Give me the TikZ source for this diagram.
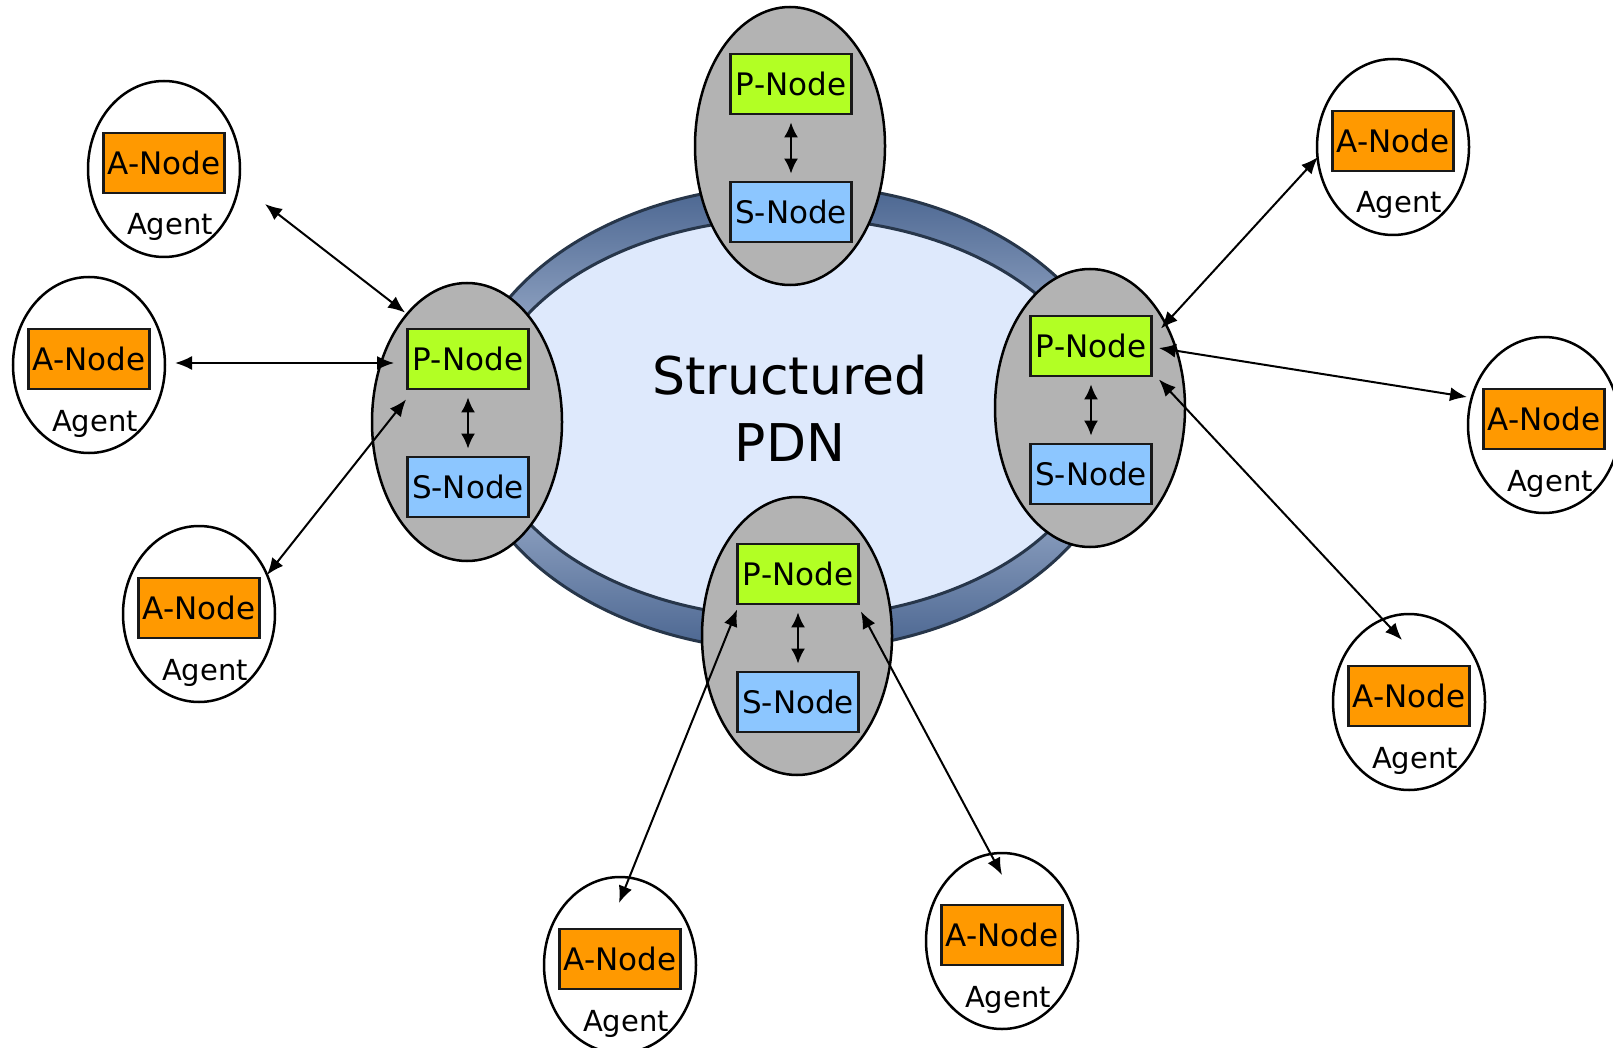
\documentclass[tikz,border=0pt]{standalone}
\usepackage{fontspec}
\setmainfont{DejaVu Sans}
\usetikzlibrary{shapes.geometric,arrows.meta,shadings}

\definecolor{pgreen}{HTML}{B2FF24}
\definecolor{sblue}{HTML}{8CC6FF}
\definecolor{aorange}{HTML}{FF9900}
\definecolor{peergray}{HTML}{B3B3B3}
\definecolor{ringdark}{HTML}{4A6590}
\definecolor{ringlight}{HTML}{BCCAE2}
\definecolor{ringline}{HTML}{27364A}
\definecolor{pdnfill}{HTML}{DEE9FC}

\tikzset{
  peer/.style={ellipse, draw=black, line width=2.5pt, fill=peergray,
    minimum width=190pt, minimum height=278pt, inner sep=0pt},
  agentshape/.style={ellipse, draw=black, line width=2.5pt, fill=white,
    minimum width=152pt, minimum height=176pt, inner sep=0pt},
  boxbase/.style={draw=black!90, line width=2.8pt, minimum width=121pt,
    minimum height=60pt, inner sep=0pt, font=\fontsize{31}{37}\selectfont},
  pbox/.style={boxbase, fill=pgreen},
  sbox/.style={boxbase, fill=sblue},
  abox/.style={boxbase, fill=aorange},
  agentlabel/.style={anchor=base, inner sep=0pt, font=\fontsize{29}{35}\selectfont},
  link/.style={line width=2pt, {Latex[length=17pt,width=14pt]}-{Latex[length=17pt,width=14pt]}},
  inner link/.style={line width=2pt, shorten <=7pt, shorten >=7pt,
    {Latex[length=15pt,width=14pt]}-{Latex[length=15pt,width=14pt]}},
}

\begin{document}
\begin{tikzpicture}[x=1pt, y=-1pt]
\useasboundingbox (0,0) rectangle (1613,1048);

% the structured PDN ring
\shade[top color=ringdark, bottom color=ringdark, middle color=ringlight,
       draw=ringline, line width=3pt]
  (793,418) ellipse [x radius=331, y radius=233];
\filldraw[fill=pdnfill, draw=ringline, line width=3pt]
  (793,418) ellipse [x radius=310, y radius=200];
\node[align=center, font=\fontsize{52}{67}\selectfont] (pdn) at (790,408) {Structured\\PDN};

% peers on the ring: P-Node above S-Node
\node[peer] (gT) at (790,146) {};
\node[peer] (gL) at (467,422) {};
\node[peer] (gR) at (1090,408) {};
\node[peer] (gB) at (797,636) {};

\node[pbox] (pT) at (791,84)  {P-Node};
\node[sbox] (sT) at (791,212) {S-Node};
\node[pbox] (pL) at (468,359) {P-Node};
\node[sbox] (sL) at (468,487) {S-Node};
\node[pbox] (pR) at (1091,346) {P-Node};
\node[sbox] (sR) at (1091,474) {S-Node};
\node[pbox] (pB) at (798,574) {P-Node};
\node[sbox] (sB) at (798,702) {S-Node};

\draw[inner link] (pT) -- (sT);
\draw[inner link] (pL) -- (sL);
\draw[inner link] (pR) -- (sR);
\draw[inner link] (pB) -- (sB);

% agents around the ring
\foreach \n/\x/\y in {1/164/169, 2/89/365, 3/199/614, 4/620/965,
                      5/1002/941, 6/1393/147, 7/1544/425, 8/1409/702}{
  \node[agentshape] (a\n) at (\x,\y) {};
  \node[abox] (b\n) at (\x,\y-6) {A-Node};
  \node[agentlabel] (t\n) at (\x+6,\y+66) {Agent};
}

% connector ends
\coordinate (e1a) at ([shift={(101,35)}]a1.center);
\coordinate (e1p) at ([shift={(-1,-15)}]pL.north west);
\coordinate (e2a) at ([shift={(86,-2)}]a2.center);
\coordinate (e2p) at ([shift={(-12,4)}]pL.west);
\coordinate (e3a) at ([shift={(68,-39)}]a3.center);
\coordinate (e3p) at ([shift={(0,9)}]pL.south west);
\coordinate (e4a) at ([shift={(-1,-62)}]a4.center);
\coordinate (e4p) at ([shift={(1,4)}]pB.south west);
\coordinate (e5a) at ([shift={(0,-66)}]a5.center);
\coordinate (e5p) at ([shift={(1,6)}]pB.south east);
\coordinate (e6a) at ([shift={(-75,10)}]a6.center);
\coordinate (e6p) at ([shift={(8,14)}]pR.north east);
\coordinate (e7a) at ([shift={(-77,-28)}]a7.center);
\coordinate (e7p) at ([shift={(6,2)}]pR.east);
\coordinate (e8a) at ([shift={(-7,-62)}]a8.center);
\coordinate (e8p) at ([shift={(6,2)}]pR.south east);

\foreach \n in {1,...,8}{
  \draw[link] (e\n a) -- (e\n p);
}
\end{tikzpicture}
\end{document}
